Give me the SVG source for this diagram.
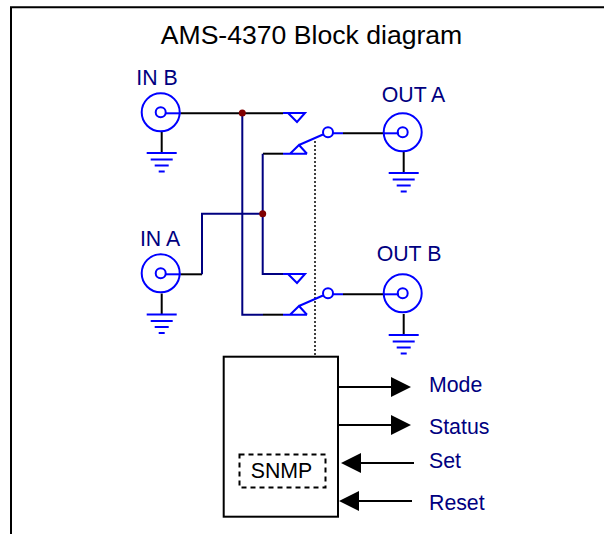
<svg xmlns="http://www.w3.org/2000/svg" width="604" height="534" viewBox="0 0 604 534">
<defs><style>
text{font-family:"Liberation Sans",Arial,sans-serif;font-size:21.3px;fill:#000080}
.k{stroke:#000;stroke-width:2;fill:none}
.n{stroke:#000080;stroke-width:2;fill:none}
.b{stroke:#0000ff;stroke-width:2;fill:none}
.w{stroke:#0000ff;stroke-width:2;fill:#fff}
</style>
<g id="gnd"><path class="k" d="M0 0V21"/><path class="b" d="M-15 21H15M-11 27.500H11M-7 33.500H7M-3 39.500H3"/></g>
<g id="bnc"><circle class="w" cx="0" cy="0" r="19"/><circle class="w" cx="0" cy="0" r="5"/></g>
</defs>
<rect width="604" height="534" fill="#fff"/>
<path d="M11 534V7.300H604" fill="none" stroke="#000" stroke-width="2"/>
<text x="311.500" y="44" text-anchor="middle" style="font-size:26.6px;fill:#000">AMS-4370 Block diagram</text>
<g id="connectors">
<path class="k" d="M181 113.300H283"/><path class="k" d="M263 153.700H283"/>
<path class="n" d="M242.300 113V314.700H263"/><path class="n" d="M262.700 153.700V274H283"/>
<path class="k" d="M263 314.700H283"/><path class="k" d="M181 274.300H202"/>
<path class="n" d="M202 274.300V213.700H262.700"/>
<path class="k" d="M343 133.300H384"/><path class="k" d="M343 294.300H384"/>
<path d="M315 141V355" stroke="#000" stroke-width="1.500" stroke-dasharray="2 2" fill="none"/>
<path class="k" d="M338 387H391"/><path class="k" d="M338 425H391"/><path class="k" d="M414 463H361"/><path class="k" d="M412 501H359"/>
<path d="M391 377L411 387L391 397ZM391 415L411 425L391 435ZM361 453L341 463L361 473ZM359 491L339 501L359 511Z" fill="#000"/>
<circle cx="242.300" cy="113" r="3.500" fill="#800000"/><circle cx="262.700" cy="213.700" r="3.500" fill="#800000"/>
</g>
<g id="in-b"><text x="157" y="85" text-anchor="middle">IN B</text><use href="#gnd" x="161.700" y="132"/><use href="#bnc" x="160.700" y="112.300"/><path class="b" d="M166 113.300H181"/></g>
<g id="in-a"><text x="160" y="246" text-anchor="middle">IN A</text><use href="#gnd" x="161.700" y="293.500"/><use href="#bnc" x="160.700" y="273.300"/><path class="b" d="M166 274.300H181"/></g>
<g id="out-a"><text x="413.500" y="102" text-anchor="middle">OUT A</text><use href="#gnd" x="403.700" y="152"/><use href="#bnc" x="402.700" y="132.300"/><path class="b" d="M384 133.300H399"/></g>
<g id="out-b"><text x="409" y="261" text-anchor="middle">OUT B</text><use href="#gnd" x="403.700" y="314"/><use href="#bnc" x="402.700" y="293.300"/><path class="b" d="M384 294.300H399"/></g>
<g id="switch-a"><path class="b" d="M283 113H305L297 122L288 113M283 153.700H307M290 153.700L299 145L307 153.700M299 145L323 134.500M333 133.300H343"/><circle class="w" cx="328" cy="132.300" r="5"/></g>
<g id="switch-b"><path class="b" d="M283 274H305L297 283L288 274M283 314.700H307M290 314.700L299 306L307 314.700M299 306L323 295.500M333 294.300H343"/><circle class="w" cx="328" cy="293.300" r="5"/></g>
<g id="controller"><rect x="223.700" y="356.700" width="114.300" height="160" fill="#fff" stroke="#000" stroke-width="2"/>
<rect x="239.500" y="454.500" width="86" height="33" fill="none" stroke="#000" stroke-width="2" stroke-dasharray="5 4"/>
<text x="281.500" y="478" text-anchor="middle" style="fill:#000">SNMP</text></g>
<g id="labels"><text x="429" y="392">Mode</text><text x="429" y="434">Status</text><text x="429" y="468">Set</text><text x="429" y="510">Reset</text></g>
</svg>
